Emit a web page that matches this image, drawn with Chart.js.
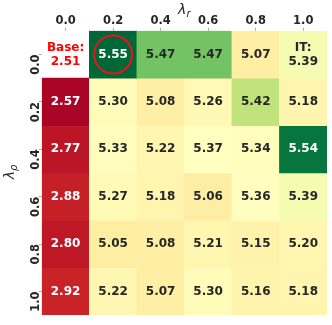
<!DOCTYPE html>
<html>
<head>
<meta charset="utf-8">
<script src="https://cdn.jsdelivr.net/npm/chart.js@4/dist/chart.umd.min.js"></script>
<style>
  html, body { margin: 0; padding: 0; background: #fff; }
  #wrap { width: 332px; height: 325px; }
</style>
</head>
<body>
<div id="wrap"><canvas id="heat"></canvas></div>
<script>
// lambda_r along the columns, lambda_rho along the rows
const colLabels = ['0.0', '0.2', '0.4', '0.6', '0.8', '1.0'];
const rowLabels = ['0.0', '0.2', '0.4', '0.6', '0.8', '1.0'];

const row00 = [2.51, 5.55, 5.47, 5.47, 5.07, 5.39];
const row02 = [2.57, 5.30, 5.08, 5.26, 5.42, 5.18];
const row04 = [2.77, 5.33, 5.22, 5.37, 5.34, 5.54];
const row06 = [2.88, 5.27, 5.18, 5.06, 5.36, 5.39];
const row08 = [2.80, 5.05, 5.08, 5.21, 5.15, 5.20];
const row10 = [2.92, 5.22, 5.07, 5.30, 5.16, 5.18];
const values = [row00, row02, row04, row06, row08, row10];

// special cells
const baseCell = [0, 0];   // masked, shown as text only
const itCell = [0, 5];
const bestCell = [0, 1];   // circled

// RdYlGn colormap with a piecewise norm (value -> 0..1)
const rdylgn = ['#a50026', '#d73027', '#f46d43', '#fdae61', '#fee08b', '#ffffbf',
                '#d9ef8b', '#a6d96a', '#66bd63', '#1a9850', '#006837'];
const normStops = [[2.51, 0], [5.37, 0.5], [5.39, 0.525], [5.42, 0.65], [5.47, 0.78], [5.55, 1]];

function hexToRgb(h) {
    return [parseInt(h.substr(1, 2), 16), parseInt(h.substr(3, 2), 16), parseInt(h.substr(5, 2), 16)];
}

function norm(v) {
    if (v <= normStops[0][0]) return 0;
    for (let i = 1; i < normStops.length; i++) {
        let a = normStops[i - 1], b = normStops[i];
        if (v <= b[0]) return a[1] + (b[1] - a[1]) * (v - a[0]) / (b[0] - a[0]);
    }
    return 1;
}

function colorFor(v) {
    let t = norm(v);
    let pos = t * (rdylgn.length - 1);
    let i = Math.min(Math.floor(pos), rdylgn.length - 2);
    let f = pos - i;
    let a = hexToRgb(rdylgn[i]), b = hexToRgb(rdylgn[i + 1]);
    let c = a.map((x, k) => Math.round(x + (b[k] - x) * f));
    return { css: 'rgb(' + c.join(',') + ')', t: t };
}

const isBase = (r, c) => r === baseCell[0] && c === baseCell[1];
const isIT = (r, c) => r === itCell[0] && c === itCell[1];

let datasets = values.map((row, r) => ({
    label: rowLabels[r],
    data: colLabels.map(() => 1),
    backgroundColor: row.map((v, c) => isBase(r, c) ? 'rgba(0,0,0,0)' : colorFor(v).css),
    borderWidth: 0,
    barPercentage: 1.0,
    categoryPercentage: 1.0
}));

const FONT = 'DejaVu Sans';

// cell texts, circle and axis titles
const annotatePlugin = {
    id: 'annotate',
    afterDatasetsDraw(chart) {
        const ctx = chart.ctx;
        ctx.save();
        ctx.textAlign = 'center';
        ctx.textBaseline = 'middle';
        ctx.font = 'bold 12px "' + FONT + '"';
        chart.data.datasets.forEach((ds, r) => {
            let meta = chart.getDatasetMeta(r);
            meta.data.forEach((bar, c) => {
                let cx = bar.x;
                let cy = (bar.y + bar.base) / 2;
                let v = values[r][c];
                if (isBase(r, c)) {
                    ctx.fillStyle = '#ff0000';
                    ctx.fillText('Base:', cx, cy - 7);
                    ctx.fillText(v.toFixed(2), cx, cy + 7);
                    return;
                }
                let t = colorFor(v).t;
                ctx.fillStyle = (t < 0.15 || t > 0.85) ? '#ffffff' : '#262626';
                if (isIT(r, c)) {
                    ctx.fillText('IT:', cx, cy - 7);
                    ctx.fillText(v.toFixed(2), cx, cy + 7);
                } else {
                    ctx.fillText(v.toFixed(2), cx, cy);
                }
                if (r === bestCell[0] && c === bestCell[1]) {
                    ctx.beginPath();
                    ctx.strokeStyle = '#e8141c';
                    ctx.lineWidth = 2;
                    ctx.arc(cx, cy, 19, 0, Math.PI * 2);
                    ctx.stroke();
                }
            });
        });

        // axis titles with subscripts
        const area = chart.chartArea;
        ctx.fillStyle = '#262626';
        ctx.textBaseline = 'alphabetic';
        let mx = (area.left + area.right) / 2;
        ctx.font = 'italic 14px "' + FONT + '"';
        ctx.textAlign = 'right';
        ctx.fillText('\u03bb', mx + 2, 14);
        ctx.font = 'italic 10px "' + FONT + '"';
        ctx.textAlign = 'left';
        ctx.fillText('r', mx + 2, 17);

        let my = (area.top + area.bottom) / 2;
        ctx.translate(14, my);
        ctx.rotate(-Math.PI / 2);
        ctx.font = 'italic 14px "' + FONT + '"';
        ctx.textAlign = 'right';
        ctx.fillText('\u03bb', 2, 0);
        ctx.font = 'italic 10px "' + FONT + '"';
        ctx.textAlign = 'left';
        ctx.fillText('\u03c1', 2, 3);
        ctx.restore();
    }
};

new Chart(document.getElementById('heat'), {
    type: 'bar',
    data: { labels: colLabels, datasets: datasets },
    options: {
        responsive: true,
        maintainAspectRatio: false,
        animation: false,
        layout: { padding: { top: 14, left: 19, right: 5, bottom: 5 } },
        plugins: {
            legend: { display: false },
            tooltip: { enabled: false }
        },
        scales: {
            x: {
                position: 'top',
                stacked: true,
                grid: { display: true, offset: false, drawOnChartArea: false, drawTicks: true, tickLength: 3, color: '#b0b0b0' },
                border: { display: false },
                ticks: { color: '#262626', padding: 0, maxRotation: 0, font: { family: FONT, size: 11.5, weight: 'bold' } }
            },
            y: {
                type: 'linear',
                stacked: true,
                min: 0,
                max: 6,
                reverse: true,
                afterBuildTicks: (axis) => {
                    axis.ticks = rowLabels.map((l, i) => ({ value: i + 0.5 }));
                },
                grid: { display: true, drawOnChartArea: false, drawTicks: true, tickLength: 3, color: '#b0b0b0' },
                border: { display: false },
                ticks: {
                    color: '#262626',
                    padding: 3,
                    minRotation: 90,
                    maxRotation: 90,
                    font: { family: FONT, size: 11.5, weight: 'bold' },
                    callback: (v) => rowLabels[Math.floor(v)]
                }
            }
        }
    },
    plugins: [annotatePlugin]
});
</script>
</body>
</html>
